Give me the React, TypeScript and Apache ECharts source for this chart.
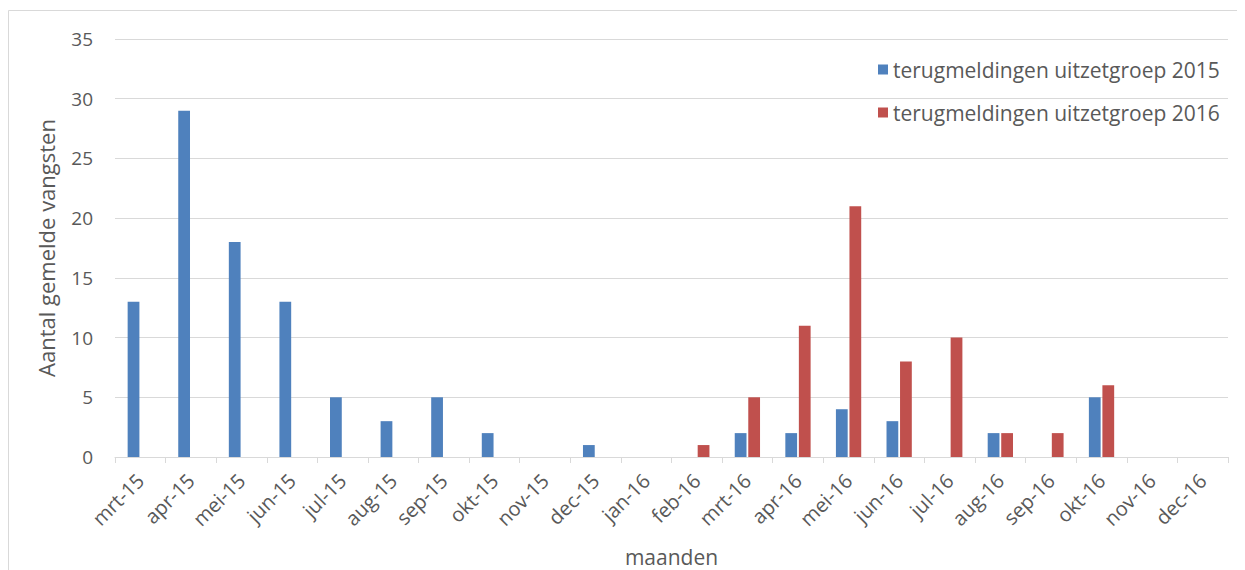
import React, { useEffect, useRef } from "react";
import * as echarts from "echarts";

const months = [
  "mrt-15", "apr-15", "mei-15", "jun-15", "jul-15", "aug-15", "sep-15", "okt-15",
  "nov-15", "dec-15", "jan-16", "feb-16", "mrt-16", "apr-16", "mei-16", "jun-16",
  "jul-16", "aug-16", "sep-16", "okt-16", "nov-16", "dec-16",
];

const group2015 = [13, 29, 18, 13, 5, 3, 5, 2, 0, 1, 0, 0, 2, 2, 4, 3, 0, 2, 0, 5, 0, 0];
const group2016 = [0, 0, 0, 0, 0, 0, 0, 0, 0, 0, 0, 1, 5, 11, 21, 8, 10, 2, 2, 6, 0, 0];

const seriesNames = ["terugmeldingen uitzetgroep 2015", "terugmeldingen uitzetgroep 2016"];
const seriesColors = ["#4f81bd", "#c0504d"];

const FONT = "'Open Sans', 'Noto Sans', sans-serif";
const TEXT = "#595959";
const LINE = "#d9d9d9";

export default function App() {
  const ref = useRef<HTMLDivElement>(null);

  useEffect(() => {
    if (!ref.current) return;
    const chart = echarts.init(ref.current, undefined, { renderer: "svg" });
    chart.setOption({
      animation: false,
      backgroundColor: "#ffffff",
      textStyle: { fontFamily: FONT },
      graphic: [
        {
          type: "rect",
          shape: { x: 0.5, y: 2.5, width: 1400, height: 700 },
          style: { fill: "none", stroke: LINE, lineWidth: 1 },
          silent: true,
        },
      ],
      grid: {
        left: 107,
        right: 17,
        top: 31,
        bottom: 113,
        containLabel: false,
        outerBoundsMode: "none",
      },
      legend: {
        orient: "vertical",
        left: 865,
        top: 46,
        itemWidth: 10,
        itemHeight: 10,
        itemGap: 22,
        icon: "rect",
        textStyle: { color: TEXT, fontSize: 21, lineHeight: 21, fontFamily: FONT },
        data: seriesNames,
      },
      xAxis: {
        type: "category",
        data: months,
        name: "maanden",
        nameLocation: "middle",
        nameGap: 89,
        nameTextStyle: { color: TEXT, fontSize: 21, lineHeight: 21, fontFamily: FONT },
        axisLine: { lineStyle: { color: LINE, width: 1 } },
        axisTick: { show: true, length: 6, lineStyle: { color: LINE } },
        axisLabel: { color: TEXT, fontSize: 20, rotate: 45, margin: 20, fontFamily: FONT },
        splitLine: { show: false },
      },
      yAxis: {
        type: "value",
        min: 0,
        max: 35,
        interval: 5,
        name: "Aantal gemelde vangsten",
        nameLocation: "middle",
        nameGap: 58,
        nameTextStyle: { color: TEXT, fontSize: 22, fontFamily: FONT },
        axisLine: { show: false },
        axisTick: { show: false },
        axisLabel: { color: TEXT, fontSize: 19, margin: 22, fontFamily: FONT },
        splitLine: { lineStyle: { color: LINE, width: 1 } },
      },
      series: [
        {
          name: seriesNames[0],
          type: "bar",
          data: group2015,
          itemStyle: { color: seriesColors[0] },
          barGap: "15%",
          barCategoryGap: "50%",
        },
        {
          name: seriesNames[1],
          type: "bar",
          data: group2016,
          itemStyle: { color: seriesColors[1] },
          barGap: "15%",
          barCategoryGap: "50%",
        },
      ],
    });
    return () => chart.dispose();
  }, []);

  return <div ref={ref} style={{ width: 1237, height: 562 }} />;
}
